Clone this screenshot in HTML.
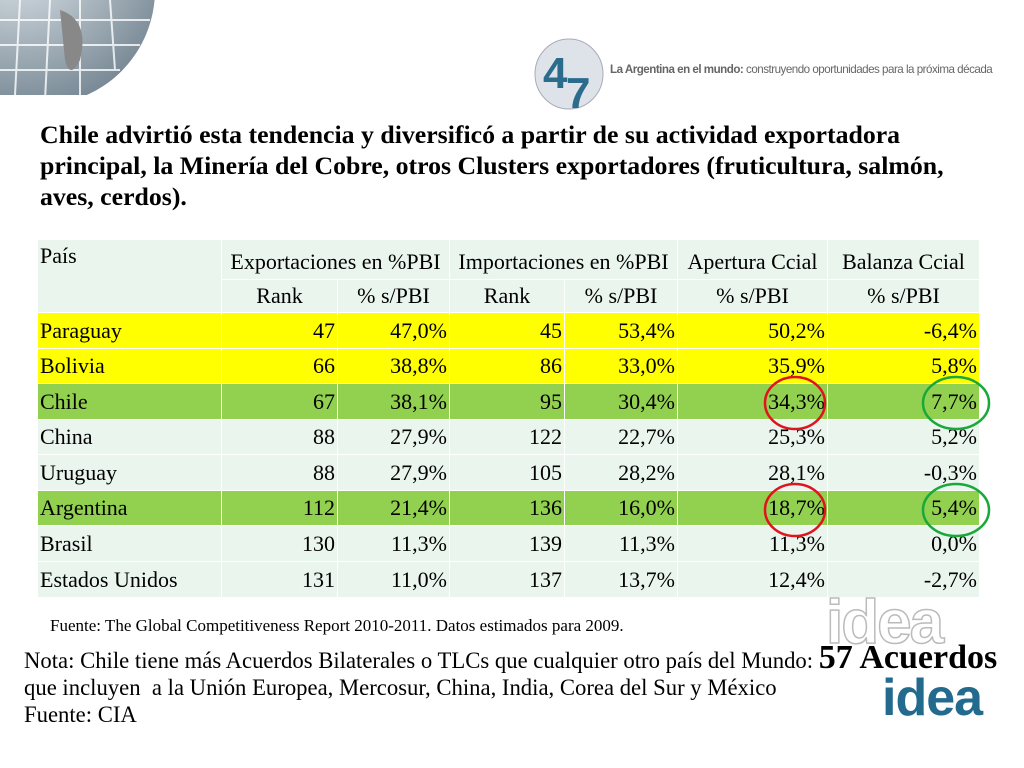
<!DOCTYPE html>
<html><head><meta charset="utf-8"><style>
body{margin:0;width:1024px;height:768px;background:#fff;position:relative;overflow:hidden;font-family:"Liberation Serif",serif;}
.a{position:absolute;}
.c{position:absolute;box-sizing:border-box;font-size:22px;line-height:1;padding:0 2px;display:flex;align-items:center;border-right:1px solid #fff;border-bottom:1px solid #fff;white-space:nowrap;}
.r{justify-content:flex-end}.m{justify-content:center}
</style></head><body>
<svg class="a" style="left:0;top:0" width="160" height="95">
<defs><radialGradient id="g" cx="0.4" cy="0.3" r="0.8"><stop offset="0" stop-color="#e8eef2"/><stop offset="1" stop-color="#6d7f8c"/></radialGradient></defs>
<circle cx="40" cy="-10" r="115" fill="url(#g)"/>
<g stroke="#fff" stroke-width="2" fill="none" opacity="0.8"><line x1="0" y1="20" x2="150" y2="20"/><line x1="0" y1="45" x2="140" y2="45"/><line x1="0" y1="70" x2="120" y2="70"/><path d="M20 0 L15 95 M50 0 L45 100 M80 0 L80 95 M110 0 L115 70"/></g>
<path d="M60 10 Q90 20 80 60 Q70 80 65 60 Z" fill="#888"/></svg>
<svg class="a" style="left:533px;top:38px" width="75" height="72"><ellipse cx="36" cy="36" rx="34" ry="35" fill="#dde3e8" stroke="#aab" /><text x="10" y="50" font-family="Liberation Sans" font-weight="bold" font-size="44" fill="#2b6c8c">4</text><text x="33" y="70" font-family="Liberation Sans" font-weight="bold" font-size="44" fill="#2b6c8c">7</text></svg>
<div class="a" style="left:610px;top:63px;font-family:'Liberation Sans',sans-serif;font-size:11.6px;color:#666;font-weight:bold;letter-spacing:-0.5px;white-space:nowrap">La Argentina en el mundo: <span style="font-weight:normal">construyendo oportunidades para la próxima década</span></div>
<div class="a" style="left:40px;top:119px;font-size:25.8px;font-weight:bold;line-height:31px;white-space:nowrap">Chile advirtió esta tendencia y diversificó a partir de su actividad exportadora<br>principal, la Minería del Cobre, otros Clusters exportadores (fruticultura, salmón,<br>aves, cerdos).</div>
<div class="a" id="tbl" style="left:0;top:0"></div>
<svg class="a" style="left:0;top:0" width="1024" height="768">
<ellipse cx="795" cy="403" rx="30" ry="26" fill="none" stroke="#e0141e" stroke-width="2.5"/>
<ellipse cx="795" cy="510" rx="30" ry="26" fill="none" stroke="#e0141e" stroke-width="2.5"/>
<ellipse cx="956" cy="403" rx="33" ry="26" fill="none" stroke="#19a83a" stroke-width="2.5"/>
<ellipse cx="956" cy="510" rx="33" ry="26" fill="none" stroke="#19a83a" stroke-width="2.5"/>
</svg>
<div class="a" style="left:50px;top:616px;font-size:17px">Fuente: The Global Competitiveness Report 2010-2011. Datos estimados para 2009.</div>
<div class="a" style="left:826px;top:592px;font-family:'Liberation Sans',sans-serif;font-weight:bold;font-size:62px;color:#fff;-webkit-text-stroke:1.5px #bbb;letter-spacing:-2px;line-height:1">idea</div>
<div class="a" style="left:882px;top:672px;font-family:'Liberation Sans',sans-serif;font-weight:bold;font-size:52px;color:#236b8e;letter-spacing:-1px;line-height:1">idea</div>
<div class="a" style="left:24px;top:644px;font-size:22.7px;line-height:27px;white-space:nowrap">Nota: Chile tiene más Acuerdos Bilaterales o TLCs que cualquier otro país del Mundo: <span style="font-size:34px;font-weight:bold">57 Acuerdos</span><br>que incluyen &nbsp;a la Unión Europea, Mercosur, China, India, Corea del Sur y México<br>Fuente: CIA</div>
<script>
const countries=["Paraguay","Bolivia","Chile","China","Uruguay","Argentina","Brasil","Estados Unidos"];
const expRank=[47,66,67,88,88,112,130,131];
const expPct=["47,0%","38,8%","38,1%","27,9%","27,9%","21,4%","11,3%","11,0%"];
const impRank=[45,86,95,122,105,136,139,137];
const impPct=["53,4%","33,0%","30,4%","22,7%","28,2%","16,0%","11,3%","13,7%"];
const apertura=["50,2%","35,9%","34,3%","25,3%","28,1%","18,7%","11,3%","12,4%"];
const balanza=["-6,4%","5,8%","7,7%","5,2%","-0,3%","5,4%","0,0%","-2,7%"];
const rowColor=["#ffff00","#ffff00","#92d050","#eaf5ee","#eaf5ee","#92d050","#eaf5ee","#eaf5ee"];
const X=[38,222,338,450,565,678,828,980];
const t=document.getElementById('tbl');
function cell(x1,x2,y1,y2,txt,cls,bg,name){const d=document.createElement('div');d.className='c '+cls;


d.style.cssText+=`left:${x1}px;top:${y1}px;width:${x2-x1}px;height:${y2-y1}px;background:${bg}`;d.textContent=txt;t.appendChild(d);return d;}
const hb="#eaf5ee";
const p=cell(X[0],X[1],240,313,"País","",hb,"header-pais");p.style.alignItems="flex-start";p.style.paddingTop="5px";
[["Exportaciones en %PBI",1,3],["Importaciones en %PBI",3,5],["Apertura Ccial",5,6],["Balanza Ccial",6,7]].forEach((h,i)=>{
const d=cell(X[h[1]],X[h[2]],240,280,h[0],"m",hb,"header-"+i);d.style.alignItems="flex-end";d.style.paddingBottom="6px";});
const sub=["Rank","% s/PBI","Rank","% s/PBI","% s/PBI","% s/PBI"];
sub.forEach((s,i)=>cell(X[i+1],X[i+2],280,313,s,"m",hb,"subheader-"+i));
const ys=[313,349,384,420,455,491,526,562,598];
countries.forEach((c,i)=>{const vals=[c,expRank[i],expPct[i],impRank[i],impPct[i],apertura[i],balanza[i]];
vals.forEach((v,j)=>cell(X[j],X[j+1],ys[i],ys[i+1],String(v),j?"r":"",rowColor[i],"cell-"+i+"-"+j));});
</script>
</body></html>
